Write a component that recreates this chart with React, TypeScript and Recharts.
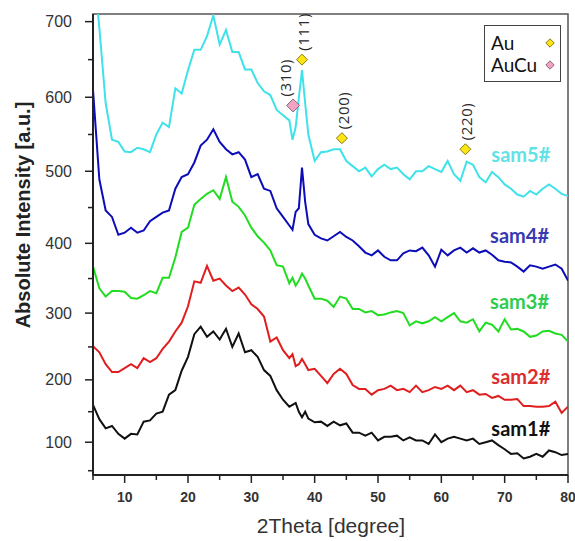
import { LineChart, Line, XAxis, YAxis, ReferenceDot, ReferenceArea } from "recharts"

// 2θ sampling (degrees), extra points around the Au(111) peak
const twoTheta = [
  5, 6, 7, 8, 9, 10, 11, 12, 13, 14, 15, 16, 17, 18, 19, 20, 21, 22, 23, 24, 25, 26, 27, 28, 29, 30,
  31, 32, 33, 34, 35, 36, 36.5, 37, 37.5, 38, 38.5, 39, 40, 41, 42, 43, 44, 45, 46, 47, 48, 49, 50,
  51, 52, 53, 54, 55, 56, 57, 58, 59, 60, 61, 62, 63, 64, 65, 66, 67, 68, 69, 70, 71, 72, 73, 74, 75,
  76, 77, 78, 79, 80,
]

const sam5 = [
  780, 692, 592, 543, 540, 527, 526, 532, 530, 526, 550, 566, 560, 612, 605, 636, 663, 663, 681, 708,
  670, 689, 660, 660, 637, 637, 619, 608, 603, 583, 576, 569, 543, 560, 599, 636, 592, 550, 514, 526,
  527, 530, 530, 514, 507, 500, 505, 493, 503, 509, 503, 505, 496, 489, 500, 500, 507, 503, 499, 514,
  496, 487, 513, 509, 492, 485, 499, 492, 482, 476, 468, 465, 473, 468, 476, 482, 476, 469, 466,
]
const sam4 = [
  610, 489, 446, 437, 412, 415, 422, 415, 418, 431, 437, 443, 446, 476, 492, 496, 512, 535, 543, 557,
  540, 530, 523, 526, 516, 492, 496, 476, 473, 449, 437, 425, 419, 444, 449, 505, 458, 427, 412, 407,
  404, 410, 416, 409, 404, 396, 387, 383, 390, 381, 376, 376, 386, 390, 389, 394, 383, 367, 391, 383,
  390, 394, 387, 393, 387, 390, 384, 376, 374, 373, 367, 360, 369, 367, 364, 367, 370, 364, 347,
]
const sam3 = [
  367, 336, 324, 332, 332, 331, 322, 321, 326, 332, 329, 351, 351, 380, 416, 422, 454, 462, 469, 474,
  462, 492, 458, 451, 439, 422, 410, 401, 390, 369, 367, 343, 351, 340, 347, 357, 350, 340, 321, 321,
  318, 309, 324, 321, 306, 306, 301, 303, 297, 298, 301, 303, 300, 282, 288, 285, 288, 294, 288, 294,
  300, 288, 286, 291, 273, 286, 283, 273, 291, 276, 277, 273, 265, 267, 273, 274, 270, 268, 258,
]
const sam2 = [
  251, 242, 224, 212, 212, 218, 224, 218, 233, 227, 233, 247, 258, 273, 286, 310, 346, 344, 368, 347,
  350, 340, 332, 337, 327, 313, 306, 295, 258, 264, 245, 233, 239, 221, 224, 232, 224, 215, 217, 206,
  195, 209, 217, 209, 192, 186, 186, 177, 184, 186, 191, 184, 186, 181, 191, 181, 184, 189, 186, 191,
  184, 191, 181, 184, 177, 178, 172, 175, 169, 169, 170, 159, 159, 158, 158, 159, 166, 148, 158,
]
const sam1 = [
  161, 138, 123, 127, 114, 106, 114, 113, 134, 136, 147, 150, 177, 184, 214, 235, 269, 280, 265, 273,
  261, 277, 250, 270, 242, 245, 235, 215, 206, 184, 169, 158, 161, 164, 150, 141, 150, 139, 133, 134,
  127, 134, 128, 131, 116, 116, 111, 116, 103, 109, 109, 111, 103, 108, 103, 103, 97, 113, 100, 106,
  109, 106, 103, 106, 97, 100, 103, 95, 88, 80, 81, 72, 75, 80, 75, 86, 83, 78, 80,
]

// reflections marked above sam5
const peakTheta = [38.0, 36.6, 44.3, 63.8]
const peakIntensity = [650, 589, 545, 530]
const peakHkl = ["(111)", "(310)", "(200)", "(220)"]
const peakPhase = ["Au", "AuCu", "Au", "Au"]

const xTicks = [5, 10, 15, 20, 25, 30, 35, 40, 45, 50, 55, 60, 65, 70, 75, 80]
const yTicks = [50, 100, 150, 200, 250, 300, 350, 400, 450, 500, 550, 600, 650, 700]

const data = twoTheta.map((t, i) => ({
  t,
  sam1: sam1[i],
  sam2: sam2[i],
  sam3: sam3[i],
  sam4: sam4[i],
  sam5: sam5[i],
}))

const series = [
  { key: "sam5", label: "sam5#", stroke: "#3fe2e8", text: "#62e2e6", lx: 67.9, ly: 513 },
  { key: "sam4", label: "sam4#", stroke: "#0c0cb8", text: "#3a3ab0", lx: 67.7, ly: 400 },
  { key: "sam3", label: "sam3#", stroke: "#22dc22", text: "#30cc50", lx: 67.7, ly: 306 },
  { key: "sam2", label: "sam2#", stroke: "#e01e1e", text: "#dc2e2e", lx: 67.9, ly: 194 },
  { key: "sam1", label: "sam1#", stroke: "#111111", text: "#111111", lx: 67.9, ly: 111 },
]

const phaseFill: Record<string, string> = { Au: "#fde414", AuCu: "#f2a2c2" }
const phaseStroke: Record<string, string> = { Au: "#8c7c10", AuCu: "#8a6878" }

const SANS = "'Liberation Sans', Arial, sans-serif"
const LABEL_FONT = "Lato, 'Open Sans', sans-serif"

// the scanned axis is slightly stretched at the top: a mild power scale matches its ticks
function powScale(k: number): any {
  let dom = [0, 1]
  let rng = [0, 1]
  const f = (v: number) => Math.pow(Math.max(v, 0), k)
  const scale: any = (v: number) =>
    rng[0] + ((f(v) - f(dom[0])) / (f(dom[1]) - f(dom[0]))) * (rng[1] - rng[0])
  scale.domain = (d?: number[]) => {
    if (!d) return dom.slice()
    dom = d.map(Number)
    return scale
  }
  scale.range = (r?: number[]) => {
    if (!r) return rng.slice()
    rng = r.map(Number)
    return scale
  }
  scale.invert = (p: number) => {
    const t = (p - rng[0]) / (rng[1] - rng[0])
    return Math.pow(f(dom[0]) + t * (f(dom[1]) - f(dom[0])), 1 / k)
  }
  scale.ticks = () => yTicks
  scale.tickFormat = () => (v: number) => String(v)
  scale.nice = () => scale
  scale.clamp = () => scale
  scale.copy = () => powScale(k).domain(dom).range(rng)
  return scale
}

const yScale = powScale(1.13)

function XTick({ x, y, payload }: any) {
  const v = payload.value
  const major = v % 10 === 0
  return (
    <g>
      <line x1={x} x2={x} y1={y} y2={y + (major ? 8 : 5)} stroke="#222" strokeWidth={1.5} />
      {major && (
        <text x={x} y={y + 27} textAnchor="middle" fontFamily={SANS} fontWeight="bold" fontSize={14} fill="#333">
          {v}
        </text>
      )}
    </g>
  )
}

function YTick({ x, y, payload }: any) {
  const v = payload.value
  const major = v % 100 === 0
  return (
    <g>
      <line x1={x - (major ? 8 : 5)} x2={x} y1={y} y2={y} stroke="#222" strokeWidth={1.5} />
      {major && (
        <text x={x - 21} y={y + 5.5} textAnchor="end" fontFamily={SANS} fontSize={16} fill="#333">
          {v}
        </text>
      )}
    </g>
  )
}

function Diamond({ cx, cy, r, fill, stroke }: any) {
  return (
    <polygon
      points={`${cx},${cy - r} ${cx + r},${cy} ${cx},${cy + r} ${cx - r},${cy}`}
      fill={fill}
      stroke={stroke}
      strokeWidth={1}
    />
  )
}

export default function App() {
  return (
    <div style={{ position: "absolute", left: 0, top: 0, width: 575, height: 541, background: "#fff" }}>
      <LineChart width={575} height={541} data={data} margin={{ top: 14, right: 7, bottom: 0, left: 0 }}>
        <XAxis
          dataKey="t"
          type="number"
          domain={[5, 80]}
          ticks={xTicks}
          interval={0}
          allowDataOverflow
          height={66}
          tickSize={0}
          tickMargin={0}
          tickLine={false}
          tick={<XTick />}
          axisLine={{ stroke: "#222", strokeWidth: 2 }}
        />
        <YAxis
          type="number"
          scale={yScale}
          domain={[42, 710]}
          ticks={yTicks}
          interval={0}
          allowDataOverflow
          width={93}
          tickSize={0}
          tickMargin={0}
          tickLine={false}
          tick={<YTick />}
          axisLine={{ stroke: "#222", strokeWidth: 2 }}
        />
        <ReferenceArea x1={5} x2={80} y1={42} y2={710} fill="none" stroke="#555" strokeWidth={1.5} />
        {series.map((s) => (
          <Line
            key={s.key}
            dataKey={s.key}
            type="linear"
            stroke={s.stroke}
            strokeWidth={2}
            dot={false}
            activeDot={false}
            isAnimationActive={false}
          />
        ))}
        {series.map((s) => (
          <ReferenceDot
            key={s.label}
            x={s.lx}
            y={s.ly}
            r={0}
            shape={(p: any) => (
              <text x={p.cx} y={p.cy} fontFamily={LABEL_FONT} fontWeight="bold" fontSize={20} fill={s.text}>
                {s.label}
              </text>
            )}
          />
        ))}
        {peakTheta.map((t, i) => {
          const dx = peakHkl[i] === "(310)" ? -8 : 1
          return (
            <ReferenceDot
              key={peakHkl[i]}
              x={t}
              y={peakIntensity[i]}
              r={0}
              shape={(p: any) => (
                <g>
                  <Diamond
                    cx={p.cx}
                    cy={p.cy}
                    r={peakPhase[i] === "AuCu" ? 6.5 : 5.5}
                    fill={phaseFill[peakPhase[i]]}
                    stroke={phaseStroke[peakPhase[i]]}
                  />
                  <text
                    transform={`translate(${p.cx + dx},${p.cy - 9}) rotate(-90)`}
                    dominantBaseline="central"
                    fontFamily="'Open Sans', sans-serif"
                    fontSize={15}
                    letterSpacing={0.6}
                    fill="#2a2a2a"
                  >
                    {peakHkl[i]}
                  </text>
                </g>
              )}
            />
          )
        })}
      </LineChart>

      <div
        style={{
          position: "absolute",
          left: 23,
          top: 215,
          transform: "translate(-50%, -50%) rotate(-90deg)",
          whiteSpace: "nowrap",
          fontFamily: SANS,
          fontWeight: "bold",
          fontSize: 20,
          color: "#222",
        }}
      >
        Absolute Intensity [a.u.]
      </div>
      <div
        style={{
          position: "absolute",
          left: 331,
          top: 526,
          transform: "translate(-50%, -50%)",
          whiteSpace: "nowrap",
          fontFamily: SANS,
          fontSize: 21,
          color: "#333",
        }}
      >
        2Theta [degree]
      </div>

      <div
        style={{
          position: "absolute",
          left: 484,
          top: 25,
          width: 77,
          height: 57,
          border: "1.5px solid #444",
          background: "#fff",
          fontFamily: LABEL_FONT,
          fontSize: 19,
          color: "#111",
          padding: "6px 0 0 6px",
          boxSizing: "border-box",
        }}
      >
        {["Au", "AuCu"].map((name) => (
          <div
            key={name}
            style={{
              display: "flex",
              alignItems: "center",
              justifyContent: "space-between",
              paddingRight: 5,
              height: 22,
              lineHeight: "22px",
            }}
          >
            <span>{name}</span>
            <svg width={10} height={10}>
              <Diamond cx={5} cy={5} r={4.2} fill={phaseFill[name]} stroke={phaseStroke[name]} />
            </svg>
          </div>
        ))}
      </div>
    </div>
  )
}
